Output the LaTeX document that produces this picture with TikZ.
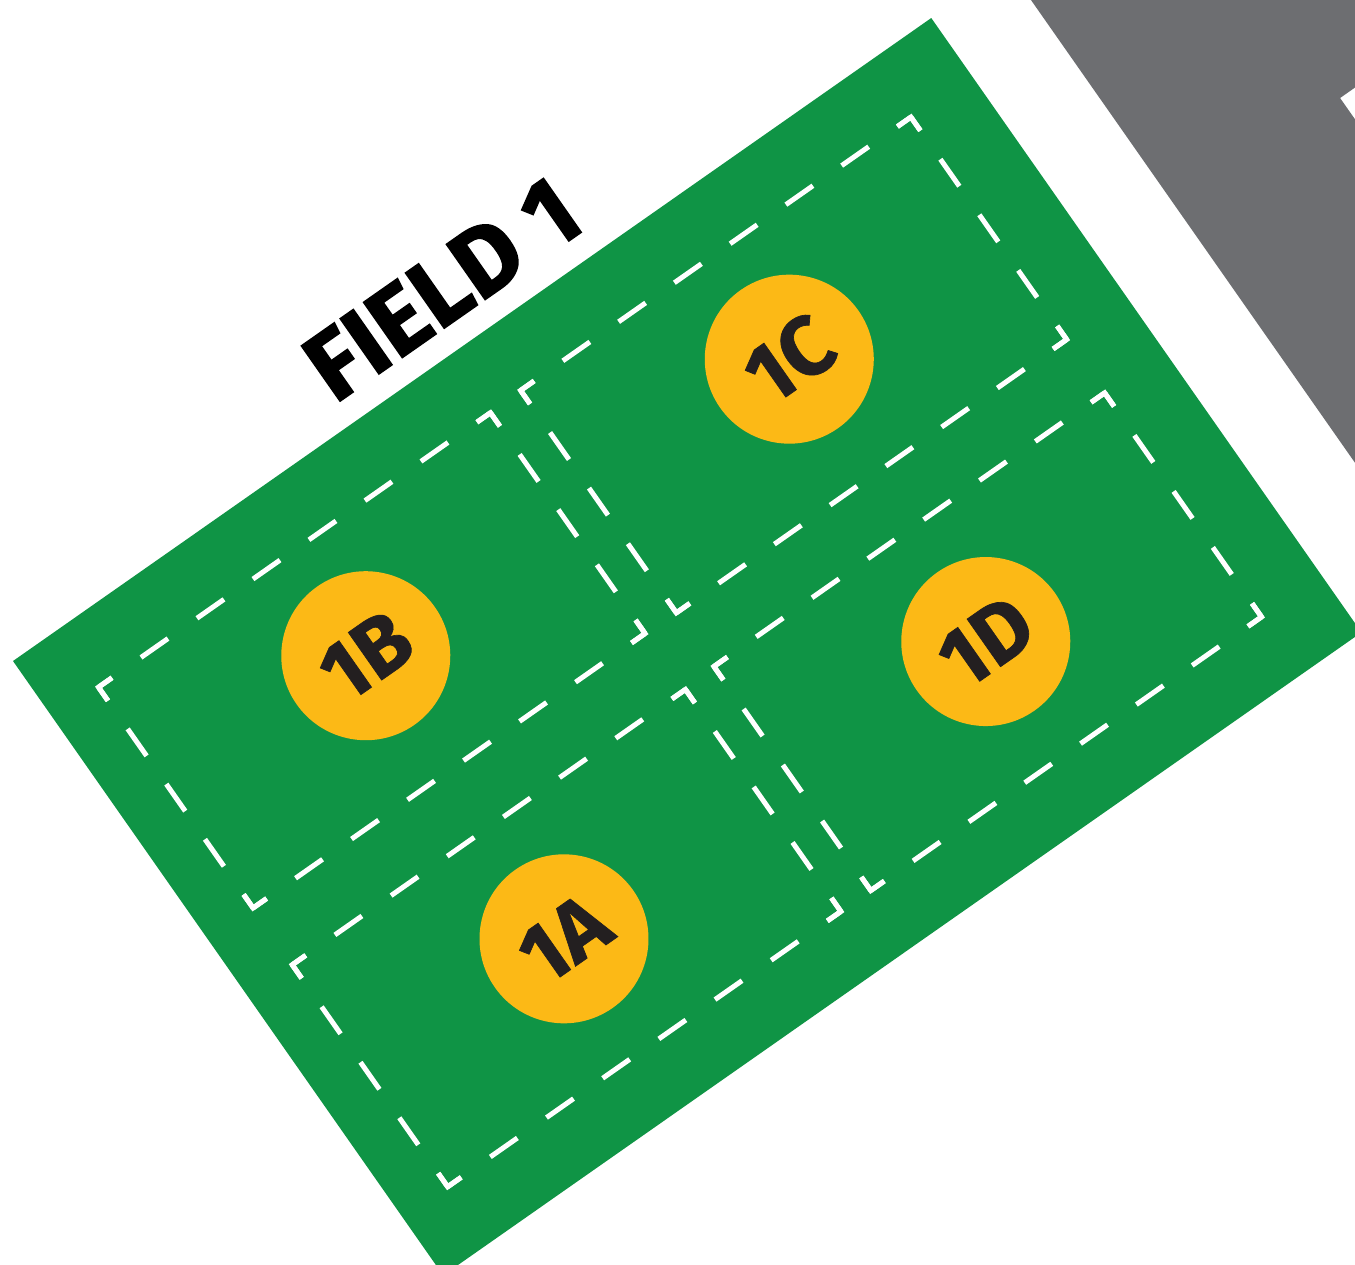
\documentclass[tikz,border=0pt]{standalone}
\usepackage{fontspec}
\setmainfont{Fira Sans}
\newfontfamily\titlefont{Fira Sans}[FakeBold=1.6]
\newfontfamily\spotfont{Fira Sans}[FakeBold=0.8]
\definecolor{fieldgreen}{HTML}{0F9445}
\definecolor{roadgray}{HTML}{6D6E71}
\definecolor{spotyellow}{HTML}{FCB916}
\definecolor{labeldark}{HTML}{231F20}
\tikzset{
  dline/.style={white, line width=3.75pt},
  cornerline/.style={white, line width=3.75pt, line join=miter},
  spot/.style={circle, fill=spotyellow, minimum size=126.75pt, inner sep=0pt,
    text=labeldark, font=\spotfont\fontsize{63}{63}\selectfont\bfseries, rotate=35},
  fieldlabel/.style={inner sep=0pt, text=black,
    font=\titlefont\fontsize{73}{73}\selectfont\bfseries, rotate=35},
}
% dashed sub-field outline: #1,#2 = first corner, #3,#4 = opposite corner (px, local frame)
\newcommand\subfieldoutline[4]{%
  \pgfmathsetmacro\dbGw{0.75*((#3-#1)/7-33)}%
  \pgfmathsetmacro\dbGh{0.75*((#4-#2)/4-33)}%
  \draw[dline, dash pattern=on 24.75pt off \dbGw pt, dash phase=12.375pt] (#1,#2) -- (#3,#2);
  \draw[dline, dash pattern=on 24.75pt off \dbGw pt, dash phase=12.375pt] (#1,#4) -- (#3,#4);
  \draw[dline, dash pattern=on 24.75pt off \dbGh pt, dash phase=12.375pt] (#1,#2) -- (#1,#4);
  \draw[dline, dash pattern=on 24.75pt off \dbGh pt, dash phase=12.375pt] (#3,#2) -- (#3,#4);
  \draw[cornerline] ({#1+16.5},#2) -- (#1,#2) -- (#1,{#2+16.5});
  \draw[cornerline] ({#3-16.5},#2) -- (#3,#2) -- (#3,{#2+16.5});
  \draw[cornerline] ({#1+16.5},#4) -- (#1,#4) -- (#1,{#4-16.5});
  \draw[cornerline] ({#3-16.5},#4) -- (#3,#4) -- (#3,{#4-16.5});
}
\begin{document}
\begin{tikzpicture}[x=0.75pt, y=-0.75pt]
  \useasboundingbox (0,0) rectangle (1355,1264);
  \clip (0,0) rectangle (1355,1264);
  \fill[white] (0,0) rectangle (1355,1264);
  \begin{scope}[shift={(13,661)}, rotate=35]
    % road / building in grey
    \fill[roadgray] (1213,-400) -- (1213,1000) -- (1410,1000) -- (1410,300)
                    -- (1800,300) -- (1800,-400) -- cycle;
    % field
    \fill[fieldgreen] (0,0) rectangle (1121,750);
    % sub-fields
    \subfieldoutline{55}{70.5}{533.5}{340}
    \subfieldoutline{571}{69.5}{1047.5}{341}
    \subfieldoutline{54.5}{409}{534.5}{680}
    \subfieldoutline{571}{406.5}{1048}{680}
    % title
    \node[fieldlabel] (title) at (565,-59) {FIELD 1};
    % sub-field labels
    \node[spot] (s1B) at (292,198) {1B};
    \node[spot] (s1C) at (809,198) {1C};
    \node[spot] (s1A) at (292,543.6) {1A};
    \node[spot] (s1D) at (808,542) {1D};
  \end{scope}
\end{tikzpicture}
\end{document}
